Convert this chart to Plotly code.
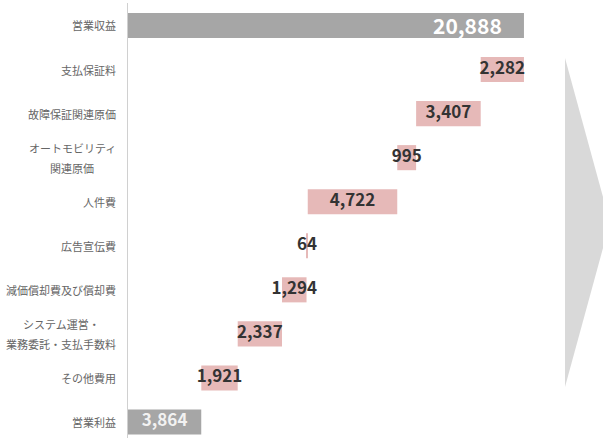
import plotly.graph_objects as go

# Operating revenue → operating profit bridge (million yen)
categories = [
    "営業収益",
    "支払保証料",
    "故障保証関連原価",
    "オートモビリティ<br>関連原価",
    "人件費",
    "広告宣伝費",
    "減価償却費及び償却費",
    "システム運営・<br>業務委託・支払手数料",
    "その他費用",
    "営業利益",
]
revenue = 20888
cost_values = [2282, 3407, 995, 4722, 64, 1294, 2337, 1921]
operating_profit = 3864

GRAY = "#a6a6a6"
PINK = "#e6b9b8"
ARROW = "#d9d9d9"
LABEL_FONT = "Noto Sans CJK JP"

cost_cats = categories[1:-1]

# floating bars: each cost hangs from the running total
bases = []
running = revenue
for v in cost_values:
    running -= v
    bases.append(running)

fig = go.Figure()

# totals
fig.add_trace(go.Bar(
    y=[categories[0], categories[-1]],
    x=[revenue, operating_profit],
    orientation="h",
    marker=dict(color=GRAY, line=dict(width=0)),
    width=0.57,
    hoverinfo="skip",
))

# cost steps
fig.add_trace(go.Bar(
    y=cost_cats,
    x=cost_values,
    base=bases,
    orientation="h",
    marker=dict(color=PINK, line=dict(width=0)),
    width=0.57,
    hoverinfo="skip",
))

# value labels for the cost steps, centred on each bar
fig.add_trace(go.Scatter(
    y=cost_cats,
    x=[b + v / 2 for b, v in zip(bases, cost_values)],
    text=[f"{v:,}" for v in cost_values],
    mode="text",
    textposition="middle center",
    textfont=dict(family=LABEL_FONT, size=17, color="#333333", weight=700),
    hoverinfo="skip",
))

# value label for operating profit, centred
fig.add_trace(go.Scatter(
    y=[categories[-1]],
    x=[operating_profit / 2],
    text=[f"{operating_profit:,}"],
    mode="text",
    textposition="middle center",
    textfont=dict(family=LABEL_FONT, size=17, color="#f2f2f2", weight=700),
    hoverinfo="skip",
))

# value label for revenue, at the inner end of the bar
fig.add_annotation(
    x=revenue, y=categories[0], xref="x", yref="y",
    text=f"{revenue:,}", showarrow=False,
    xanchor="right", xshift=-20,
    font=dict(family=LABEL_FONT, size=21, color="#ffffff", weight=700),
)

# category labels, right-aligned block, lines centred on each other
CAT_SIZE = 11
for cat in categories:
    lines = cat.split("<br>")
    longest = max(len(s) for s in lines)
    n = len(lines)
    for i, line in enumerate(lines):
        fig.add_annotation(
            x=0, y=cat, xref="paper", yref="y",
            text=line, showarrow=False,
            xanchor="right", xshift=-10 - (longest - len(line)) * CAT_SIZE / 2,
            yshift=(n - 1) * 10 - i * 20,
            font=dict(family=LABEL_FONT, size=CAT_SIZE, color="#666666"),
        )

# large pointer arrow on the right
fig.add_shape(
    type="path", xref="paper", yref="paper",
    path="M 1.0023 0.8736 L 1.1055 0.4954 L 1.0023 0.1172 Z",
    fillcolor=ARROW, line=dict(width=0), layer="below",
)

fig.update_layout(
    width=603, height=438,
    margin=dict(l=128, r=39, t=3, b=0),
    paper_bgcolor="white",
    plot_bgcolor="white",
    showlegend=False,
    barmode="overlay",
    xaxis=dict(range=[0, 23000], visible=False, fixedrange=True),
    yaxis=dict(
        categoryorder="array", categoryarray=categories,
        range=[9.363, -0.51],
        showticklabels=False, ticks="",
        showgrid=False, zeroline=False,
        showline=True, linecolor="#d0d0d0", linewidth=1,
    ),
)

fig.write_html("out.html")
